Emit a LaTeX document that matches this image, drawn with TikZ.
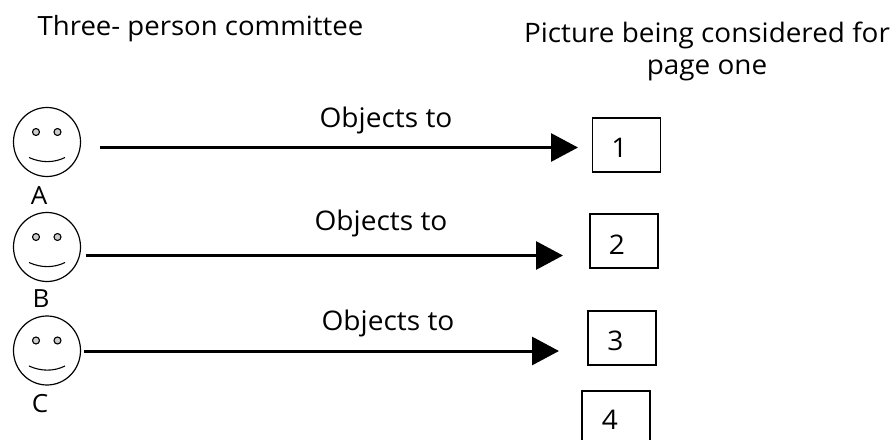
\documentclass[tikz,border=0pt]{standalone}
\usepackage{fontspec}
\setmainfont[FakeStretch=1.04]{Open Sans}
\usetikzlibrary{arrows.meta,shapes.geometric}
\tikzset{
  x=1pt,y=-1pt,
  lbl/.style={inner sep=0pt,font=\fontsize{27}{34}\selectfont,text=black},
  pic box/.style={draw=black,line width=1.5pt,minimum width=68pt,minimum height=54pt,inner sep=0pt},
  headface/.style={draw=black,line width=1.2pt,ellipse,minimum width=67pt,minimum height=69pt,inner sep=0pt},
  eye/.style={draw=black,fill=black!20,line width=1.1pt,circle,minimum size=7pt,inner sep=0pt},
  objarrow/.style={line width=3pt,-{Triangle[length=27pt,width=28pt]}}
}
\newcommand{\smiley}[3]{%
  \node[headface] (#1) at (#2,#3) {};
  \node[eye] (#1el) at (#2-11,#3-10) {};
  \node[eye] (#1er) at (#2+10.5,#3-10) {};
  \draw[line width=1.1pt] (#2-18,#3+15.5) .. controls (#2-6,#3+21) and (#2+7,#3+21) .. (#2+18,#3+15.5);
}
\begin{document}
\begin{tikzpicture}
\useasboundingbox[fill=white] (0,0) rectangle (894,441);
\node[lbl,font=\fontsize{26.5}{32}\selectfont] (t1) at (200.5,28.5) {Three- person committee};
\node[lbl,align=center,font=\fontsize{26.8}{32}\selectfont] (t2) at (707,51) {Picture being considered for\\page one};
\smiley{fa}{47}{142}
\smiley{fb}{47}{247}
\smiley{fc}{47}{350.5}
\node[lbl,font=\fontsize{25}{30}\selectfont] (la) at (39,196) {A};
\node[lbl,font=\fontsize{25}{30}\selectfont] (lb) at (41,298.5) {B};
\node[lbl,font=\fontsize{25}{30}\selectfont] (lc) at (40,403.5) {C};
\node[pic box] (b1) at (626.5,145) {};
\node[pic box] (b2) at (624,241) {};
\node[pic box] (b3) at (622,338) {};
\draw[line width=1.5pt] (582,440) -- (582,391) -- (650,391) -- (650,440);
\node[lbl] (n1) at (619.5,148) {1};
\node[lbl] (n2) at (617,244.5) {2};
\node[lbl] (n3) at (615.5,340.5) {3};
\node[lbl] (n4) at (610,420) {4};
\node[lbl,font=\fontsize{27}{32}\selectfont] (o1) at (386,120.5) {Objects to};
\node[lbl,font=\fontsize{27}{32}\selectfont] (o2) at (381,223.5) {Objects to};
\node[lbl,font=\fontsize{27}{32}\selectfont] (o3) at (388,323) {Objects to};
\coordinate (sa) at (100,147.5);
\coordinate (ea) at (578,147.5);
\coordinate (sb) at (86,255.5);
\coordinate (eb) at (563,255.5);
\coordinate (sc) at (84,351);
\coordinate (ec) at (559,351);
\draw[objarrow] (sa) -- (ea);
\draw[objarrow] (sb) -- (eb);
\draw[objarrow] (sc) -- (ec);
\end{tikzpicture}
\end{document}
